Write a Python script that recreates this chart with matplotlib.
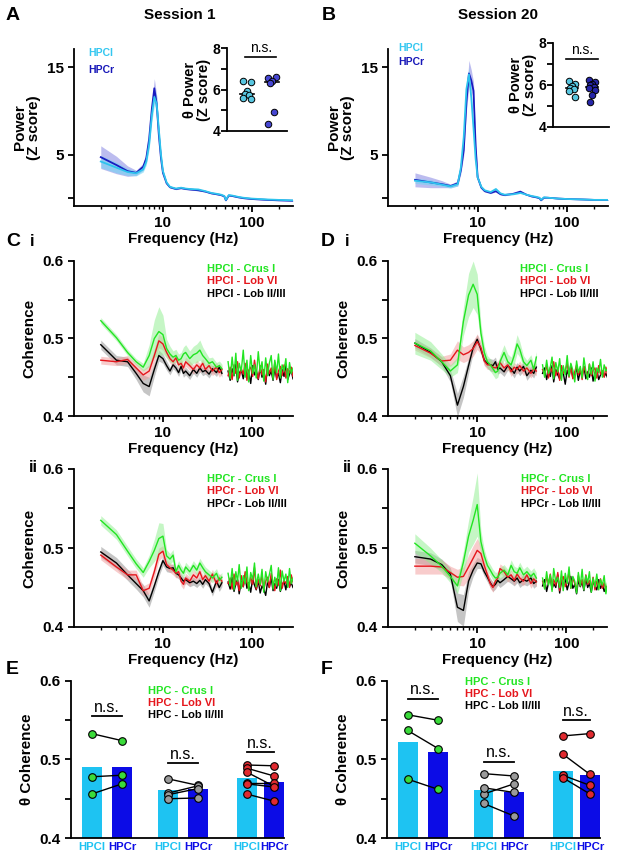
import matplotlib.pyplot as plt
import numpy as np
from matplotlib.ticker import LogLocator, NullFormatter, FixedLocator

plt.rcParams.update(
    {
        "font.family": ["Liberation Sans", "DejaVu Sans"],
        "font.weight": "bold",
        "axes.labelweight": "bold",
        "font.size": 11,
        "axes.linewidth": 1.3,
        "xtick.major.width": 1.3,
        "ytick.major.width": 1.3,
        "xtick.minor.width": 1.0,
        "ytick.minor.width": 1.3,
        "xtick.major.size": 4,
        "ytick.major.size": 4,
        "xtick.minor.size": 2.5,
        "ytick.minor.size": 4,
        "xtick.color": "black",
        "ytick.color": "black",
    }
)

# ---------------- data ----------------
# power spectra (z score)
pw_f = [2, 3, 4, 5, 6, 6.5, 7, 7.5, 8, 8.5, 9, 9.5, 10, 11, 12, 14, 16, 18, 20, 25,
        30, 35, 40, 45, 49, 51, 55, 60, 70, 80, 100, 150, 200, 290]
a_hpcr = [4.7, 3.8, 3.1, 2.9, 3.6, 4.6, 6.8, 10.2, 12.6, 10.8, 7.2, 4.6, 2.9, 1.7, 1.25, 1.05, 1.15,
          1.05, 1.0, 0.9, 0.75, 0.55, 0.45, 0.35, 0.2, -0.25, 0.3, 0.25, 0.1, 0.0, -0.1, -0.2, -0.25, -0.3]
a_hpcr_sem = [1.3, 1.0, 0.6, 0.3, 0.4, 0.5, 0.7, 0.9, 1.1, 1.0, 0.7, 0.4, 0.2, 0.1, 0.1, 0.08, 0.08,
              0.08, 0.08, 0.06, 0.06, 0.06, 0.06, 0.06, 0.06, 0.06, 0.05, 0.05, 0.05, 0.05, 0.04, 0.04, 0.04, 0.04]
a_hpcl = [4.2, 3.5, 3.0, 2.85, 3.3, 4.2, 6.2, 9.5, 11.6, 10.8, 7.8, 5.0, 3.1, 1.8, 1.3, 1.1, 1.2,
          1.1, 1.05, 1.0, 0.8, 0.6, 0.5, 0.4, 0.25, -0.2, 0.35, 0.3, 0.15, 0.05, -0.05, -0.15, -0.2, -0.25]
a_hpcl_sem = [0.7, 0.6, 0.4, 0.3, 0.3, 0.4, 0.6, 0.8, 1.0, 0.9, 0.7, 0.4, 0.2, 0.1, 0.1, 0.08, 0.08,
              0.08, 0.08, 0.06, 0.06, 0.06, 0.06, 0.06, 0.06, 0.06, 0.05, 0.05, 0.05, 0.05, 0.04, 0.04, 0.04, 0.04]
b_hpcr = [2.1, 1.8, 1.6, 1.4, 1.7, 3.2, 5.5, 11.0, 14.3, 13.5, 12.3, 6.0, 2.4, 1.2, 0.8, 0.6, 0.8,
          0.45, 0.35, 0.5, 0.75, 0.4, 0.2, 0.1, 0.0, -0.25, 0.05, 0.05, 0.0, -0.05, -0.1, -0.15, -0.2, -0.2]
b_hpcr_sem = [0.8, 0.6, 0.4, 0.2, 0.3, 0.4, 0.6, 1.0, 1.5, 1.2, 1.0, 0.6, 0.3, 0.1, 0.1, 0.08, 0.08,
              0.08, 0.08, 0.06, 0.06, 0.06, 0.06, 0.06, 0.06, 0.06, 0.05, 0.05, 0.05, 0.05, 0.04, 0.04, 0.04, 0.04]
b_hpcl = [2.0, 1.8, 1.55, 1.35, 1.6, 3.5, 7.0, 12.5, 14.2, 11.5, 8.0, 4.5, 2.4, 1.3, 0.9, 0.7, 1.05,
          0.55, 0.4, 0.45, 0.6, 0.4, 0.25, 0.15, 0.05, -0.2, 0.1, 0.05, 0.0, -0.05, -0.1, -0.15, -0.2, -0.2]
b_hpcl_sem = [0.3, 0.3, 0.2, 0.2, 0.2, 0.3, 0.5, 0.7, 0.8, 0.7, 0.5, 0.3, 0.2, 0.1, 0.1, 0.08, 0.08,
              0.08, 0.08, 0.06, 0.06, 0.06, 0.06, 0.06, 0.06, 0.06, 0.05, 0.05, 0.05, 0.05, 0.04, 0.04, 0.04, 0.04]

# theta power per animal (insets)
a_theta_l = [6.4, 6.35, 5.95, 5.8, 5.75, 5.6, 5.55]
a_theta_r = [6.55, 6.6, 6.4, 6.3, 4.9, 4.35]
b_theta_l = [6.2, 6.05, 5.95, 5.85, 5.8, 5.7, 5.45]
b_theta_r = [6.25, 6.15, 6.05, 6.0, 5.9, 5.85, 5.75, 5.5, 5.2]

# coherence spectra, values in thousandths
coh_f_lo = [2, 3, 4, 5, 6, 7, 8, 9, 10, 11, 12, 13, 14, 15, 16, 17, 18, 20, 22, 24, 26, 28, 30, 33, 36, 40, 43, 46]
coh_f_hi = [54, 57, 60, 63, 66, 69, 72, 76, 80, 84, 88, 92, 97, 102, 107, 112, 118, 124,
            130, 136, 143, 150, 157, 165, 173, 181, 190, 199, 209, 219, 230, 241, 253, 265, 277, 290]

ci_crus = [523, 501, 482, 470, 463, 478, 500, 509, 505, 487, 480, 476, 478, 472, 474, 480, 482, 474,
           479, 481, 485, 478, 474, 468, 470, 463, 465, 461]
ci_crus_sem = [4, 4, 4, 4, 5, 14, 24, 32, 25, 12, 10, 8, 8, 8, 8, 9, 10, 10, 11, 12, 13, 11, 9, 7, 6, 6, 6, 6]
ci_crus_hi = [470, 448, 476, 452, 481, 446, 468, 458, 485, 450, 472, 444, 478, 455, 466, 449, 483, 457,
              470, 445, 475, 452, 468, 478, 447, 472, 456, 480, 449, 466, 458, 474, 443, 469, 455, 462]
ci_lob6 = [472, 470, 473, 462, 453, 458, 478, 497, 493, 482, 474, 470, 475, 466, 468, 462, 470, 465,
           460, 466, 462, 468, 460, 465, 458, 463, 456, 460]
ci_lob6_sem = [5, 5, 5, 6, 7, 8, 9, 9, 8, 7, 6, 6, 6, 6, 6, 6, 6, 6, 6, 6, 6, 6, 6, 6, 6, 6, 6, 6]
ci_lob6_hi = [452, 463, 447, 466, 455, 470, 449, 461, 454, 468, 446, 459, 463, 451, 472, 457, 448, 465,
              453, 460, 444, 467, 455, 462, 450, 469, 447, 458, 464, 452, 466, 449, 461, 456, 463, 451]
ci_lob23 = [492, 472, 470, 455, 442, 438, 460, 478, 474, 465, 458, 466, 462, 456, 464, 455, 458, 452,
            460, 455, 462, 457, 459, 454, 461, 456, 463, 455]
ci_lob23_sem = [6, 6, 6, 8, 11, 12, 9, 7, 6, 6, 5, 5, 5, 5, 5, 5, 5, 5, 5, 5, 5, 5, 5, 5, 5, 5, 5, 5]
ci_lob23_hi = [458, 446, 461, 452, 467, 444, 455, 460, 448, 463, 451, 457, 442, 465, 453, 459, 447, 462,
               450, 456, 441, 464, 452, 458, 446, 461, 449, 455, 443, 460, 451, 466, 447, 454, 459, 448]

cii_crus = [535, 517, 496, 480, 469, 483, 497, 512, 515, 490, 486, 491, 470, 478, 472, 468, 476, 470,
            478, 472, 481, 475, 470, 466, 462, 468, 459, 463]
cii_crus_sem = [6, 6, 6, 6, 6, 8, 14, 20, 16, 8, 7, 7, 6, 6, 6, 6, 6, 6, 6, 6, 6, 6, 6, 6, 6, 6, 6, 6]
cii_crus_hi = [468, 452, 474, 447, 470, 458, 479, 449, 465, 455, 476, 446, 469, 460, 481, 451, 467, 454,
               473, 444, 470, 457, 466, 478, 448, 463, 452, 475, 446, 471, 458, 467, 450, 474, 455, 462]
cii_lob6 = [491, 476, 466, 466, 446, 449, 470, 492, 496, 479, 475, 472, 468, 470, 458, 454, 462, 458,
            466, 462, 470, 460, 465, 458, 467, 455, 462, 458]
cii_lob6_sem = [6, 6, 6, 6, 6, 7, 8, 8, 7, 6, 6, 6, 6, 6, 6, 6, 6, 6, 6, 6, 6, 6, 6, 6, 6, 6, 6, 6]
cii_lob6_hi = [455, 462, 448, 467, 453, 459, 446, 465, 451, 470, 457, 449, 463, 454, 475, 448, 460, 452,
               466, 447, 458, 463, 450, 468, 456, 446, 461, 453, 472, 449, 459, 455, 464, 450, 466, 457]
cii_lob23 = [495, 481, 466, 455, 446, 433, 452, 470, 484, 476, 474, 475, 468, 466, 462, 458, 460, 456,
             458, 455, 459, 454, 460, 455, 444, 458, 450, 456]
cii_lob23_sem = [7, 7, 7, 7, 8, 8, 7, 6, 6, 6, 5, 5, 5, 5, 5, 5, 5, 5, 5, 5, 5, 5, 5, 5, 5, 5, 5, 5]
cii_lob23_hi = [457, 448, 463, 445, 455, 460, 442, 458, 451, 464, 449, 456, 444, 461, 453, 447, 459, 443,
                452, 448, 440, 457, 450, 462, 446, 455, 449, 460, 445, 453, 458, 447, 463, 451, 456, 450]

di_crus = [494, 484, 470, 458, 466, 522, 556, 570, 557, 507, 482, 470, 466, 461, 456, 458, 470, 482,
           470, 466, 478, 493, 486, 470, 465, 472, 460, 476]
di_crus_sem = [14, 12, 10, 8, 10, 18, 28, 30, 26, 12, 9, 8, 8, 8, 8, 8, 9, 10, 10, 10, 11, 12, 10, 8, 7, 7, 7, 7]
di_crus_hi = [466, 450, 472, 455, 463, 476, 448, 469, 457, 474, 446, 465, 453, 478, 451, 468, 459, 444,
              471, 456, 464, 449, 475, 458, 447, 467, 454, 470, 445, 462, 456, 473, 450, 466, 458, 461]
di_lob6 = [491, 481, 471, 472, 485, 479, 482, 487, 496, 488, 471, 466, 466, 463, 462, 465, 469, 462,
           466, 457, 463, 460, 465, 458, 462, 455, 461, 458]
di_lob6_sem = [6, 6, 6, 8, 12, 10, 10, 10, 10, 8, 6, 6, 6, 6, 6, 6, 6, 6, 6, 6, 6, 6, 6, 6, 6, 6, 6, 6]
di_lob6_hi = [460, 454, 466, 449, 463, 457, 470, 452, 461, 446, 465, 455, 459, 468, 450, 463, 448, 457,
              466, 453, 460, 447, 464, 456, 451, 467, 452, 459, 462, 449, 465, 454, 458, 450, 463, 452]
di_lob23 = [494, 482, 470, 452, 414, 438, 465, 488, 499, 486, 472, 468, 466, 465, 470, 460, 462, 457,
            465, 461, 455, 463, 458, 464, 452, 459, 455, 463]
di_lob23_sem = [6, 6, 6, 8, 15, 14, 10, 7, 6, 6, 6, 6, 8, 8, 6, 6, 6, 6, 6, 6, 6, 6, 6, 6, 6, 6, 6, 6]
di_lob23_hi = [455, 462, 447, 458, 451, 465, 444, 460, 453, 448, 463, 456, 441, 459, 452, 466, 449, 455,
               461, 446, 458, 452, 464, 448, 457, 450, 462, 445, 456, 460, 447, 453, 458, 451, 455, 449]

dii_crus = [506, 490, 477, 464, 452, 482, 515, 535, 555, 508, 490, 478, 472, 466, 462, 463, 468, 472,
            466, 478, 470, 468, 475, 466, 470, 464, 468, 462]
dii_crus_sem = [12, 10, 8, 8, 10, 14, 20, 30, 40, 14, 8, 7, 7, 7, 7, 7, 7, 7, 7, 7, 7, 7, 7, 7, 7, 7, 7, 7]
dii_crus_hi = [462, 448, 470, 453, 466, 445, 474, 457, 463, 450, 471, 446, 468, 455, 476, 449, 464, 458,
               443, 469, 452, 473, 447, 465, 456, 470, 444, 462, 451, 467, 447, 460, 453, 465, 442, 457]
dii_lob6 = [477, 477, 476, 469, 463, 464, 476, 487, 497, 493, 478, 466, 455, 450, 458, 462, 474, 470,
            463, 466, 459, 467, 462, 458, 466, 455, 461, 457]
dii_lob6_sem = [10, 10, 9, 8, 10, 12, 15, 16, 15, 10, 7, 6, 6, 6, 6, 6, 6, 6, 6, 6, 6, 6, 6, 6, 6, 6, 6, 6]
dii_lob6_hi = [458, 450, 463, 455, 467, 448, 460, 453, 469, 446, 459, 464, 451, 457, 470, 449, 462, 455,
               447, 465, 452, 460, 448, 466, 454, 459, 450, 463, 447, 458, 452, 461, 449, 456, 446, 453]
dii_lob23 = [489, 486, 479, 467, 425, 421, 458, 472, 481, 480, 470, 463, 456, 451, 454, 459, 456, 460,
             464, 461, 458, 462, 456, 460, 458, 462, 455, 458]
dii_lob23_sem = [8, 8, 7, 8, 18, 20, 12, 8, 7, 6, 6, 6, 6, 6, 6, 6, 6, 6, 6, 6, 6, 6, 6, 6, 6, 6, 6, 6]
dii_lob23_hi = [452, 460, 445, 456, 463, 448, 455, 450, 466, 443, 458, 452, 461, 447, 456, 464, 449, 454,
                442, 459, 451, 457, 446, 462, 450, 455, 444, 458, 452, 447, 460, 449, 454, 445, 451, 448]

# theta coherence per animal (HPCl / HPCr pairs)
bar_labels = ["HPCl", "HPCr", "HPCl", "HPCr", "HPCl", "HPCr"]
e_bars = [0.490, 0.491, 0.461, 0.462, 0.477, 0.471]
e_crus_l = [0.533, 0.478, 0.456]
e_crus_r = [0.524, 0.480, 0.469]
e_lob23_l = [0.4755, 0.457, 0.455, 0.450]
e_lob23_r = [0.467, 0.4665, 0.463, 0.451]
e_lob6_l = [0.493, 0.489, 0.484, 0.470, 0.469, 0.456]
e_lob6_r = [0.492, 0.479, 0.466, 0.470, 0.465, 0.447]
f_bars = [0.522, 0.509, 0.461, 0.458, 0.485, 0.480]
f_crus_l = [0.557, 0.537, 0.475]
f_crus_r = [0.550, 0.514, 0.462]
f_lob23_l = [0.482, 0.456, 0.444, 0.464]
f_lob23_r = [0.479, 0.469, 0.428, 0.458]
f_lob6_l = [0.530, 0.507, 0.480, 0.477]
f_lob6_r = [0.533, 0.481, 0.467, 0.456]

# ---------------- style ----------------
C_L = "#2EC4EE"
C_R = "#1A1AC0"
GREEN = "#22E522"
RED = "#E5161C"
BAR_L = "#1EC3F2"
BAR_R = "#0C0CE6"

W, H = 617, 860
fig = plt.figure(figsize=(W / 100, H / 100), dpi=100)


def add_ax(l, t, r, b):
    return fig.add_axes([l / W, 1 - b / H, (r - l) / W, (b - t) / H])


def ftext(x, y, s, **kw):
    kw.setdefault("va", "center")
    fig.text(x / W, 1 - y / H, s, **kw)


def prism(ax):
    ax.spines[["top", "right"]].set_visible(False)
    ax.tick_params(which="both", direction="out", labelsize=11)


def log_x(ax, right):
    ax.set_xscale("log")
    ax.set_xlim(1, right)
    ax.xaxis.set_major_locator(FixedLocator([10, 100]))
    ax.set_xticklabels(["10", "100"])
    ax.xaxis.set_minor_locator(LogLocator(base=10, subs=np.arange(2, 10)))
    ax.xaxis.set_minor_formatter(NullFormatter())
    ax.set_xlabel("Frequency (Hz)", fontsize=11, labelpad=1)


# ---------------- power panels ----------------
def power_panel(box, right, r_mean, r_sem, l_mean, l_sem):
    ax = add_ax(*box)
    prism(ax)
    f = np.array(pw_f)
    for m, s, c, fc, a in [(r_mean, r_sem, C_R, "#7A7AE0", 0.5), (l_mean, l_sem, C_L, "#6FD6F4", 0.55)]:
        m = np.array(m)
        s = np.array(s)
        ax.fill_between(f, m - s, m + s, color=fc, alpha=a, lw=0)
        ax.plot(f, m, color=c, lw=1.3)
    log_x(ax, right)
    ax.set_ylim(-0.9, 17.1)
    ax.set_yticks([0, 5, 15])
    ax.set_yticklabels(["", "5", "15"])
    ax.set_ylabel("Power\n(Z score)", fontsize=11, labelpad=4, linespacing=1.0)
    return ax


power_panel((74, 49, 293, 206), 290, a_hpcr, a_hpcr_sem, a_hpcl, a_hpcl_sem)
power_panel((388, 49, 608, 206), 285, b_hpcr, b_hpcr_sem, b_hpcl, b_hpcl_sem)
ftext(88, 53, "HPCl", color="#33C7F0", fontsize=7.5)
ftext(88, 70, "HPCr", color="#1717B8", fontsize=7.5)
ftext(398, 48, "HPCl", color="#33C7F0", fontsize=7.5)
ftext(398, 62, "HPCr", color="#1717B8", fontsize=7.5)


def inset(box, xlim, vals_l, vals_r, col_r, ns_span, ns_y):
    ax = add_ax(*box)
    prism(ax)
    ax.set_xlim(*xlim)
    ax.set_ylim(4, 8)
    ax.set_yticks([4, 6, 8])
    ax.set_yticks([5, 7], minor=True)
    ax.tick_params(axis="y", labelsize=10, pad=1)
    ax.set_xticks([])
    for i, (vals, col) in enumerate([(vals_l, "#58C6E0"), (vals_r, col_r)]):
        off = np.resize([-0.16, 0.16, 0.0, -0.08, 0.08], len(vals))
        ax.plot([i - 0.28, i + 0.28], [np.median(vals)] * 2, color="black", lw=1.2, zorder=2)
        ax.scatter(i + off, vals, s=22, color=col, edgecolor="black", lw=0.7, zorder=3)
    ax.plot(ns_span, [ns_y, ns_y], color="black", lw=1.2, clip_on=False)
    ax.text(np.mean(ns_span), ns_y + 0.08, "n.s.", ha="center", va="bottom",
            fontsize=10, fontweight="normal", clip_on=False)
    ax.set_ylabel("θ Power\n(Z score)", fontsize=10.5, labelpad=1, linespacing=1.0)


inset((227, 48, 287, 131), (-0.8, 1.6), a_theta_l, a_theta_r, "#4646D2", [-0.08, 1.17], 7.57)
inset((553, 43, 609, 127), (-0.95, 1.85), b_theta_l, b_theta_r, "#2626A8", [-0.3, 1.3], 7.25)


# ---------------- coherence panels ----------------
def coh_panel(box, right, series, hpc):
    ax = add_ax(*box)
    prism(ax)
    flo = np.array(coh_f_lo)
    fhi = np.array(coh_f_hi)
    for lo, sem, hi, c, fc in series:
        lo = np.array(lo) / 1000
        sem = np.array(sem) / 1000
        ax.fill_between(flo, lo - sem, lo + sem, color=fc, alpha=0.5, lw=0)
        ax.plot(flo, lo, color=c, lw=1.0)
        ax.plot(fhi, np.array(hi) / 1000, color=c, lw=1.0)
    log_x(ax, right)
    ax.set_ylim(0.4, 0.6)
    ax.set_yticks([0.4, 0.5, 0.6])
    ax.set_yticklabels(["0.4", "0.5", "0.6"])
    ax.set_yticks([0.45, 0.55], minor=True)
    ax.set_ylabel("Coherence", fontsize=11, labelpad=4)
    return ax


def coh_legend(x, y, hpc):
    for k, (txt, col) in enumerate([("Crus I", GREEN), ("Lob VI", RED), ("Lob II/III", "black")]):
        ftext(x, y + 12.5 * k, f"{hpc} - {txt}", color=col, fontsize=8)


coh_panel((74, 261, 293, 416), 290,
          [(ci_lob23, ci_lob23_sem, ci_lob23_hi, "black", "#8C8C8C"),
           (ci_lob6, ci_lob6_sem, ci_lob6_hi, RED, "#F29A9A"),
           (ci_crus, ci_crus_sem, ci_crus_hi, GREEN, "#8CEE8C")], "HPCl")
coh_panel((388, 261, 607, 416), 285,
          [(di_lob23, di_lob23_sem, di_lob23_hi, "black", "#8C8C8C"),
           (di_lob6, di_lob6_sem, di_lob6_hi, RED, "#F29A9A"),
           (di_crus, di_crus_sem, di_crus_hi, GREEN, "#8CEE8C")], "HPCl")
coh_panel((74, 469, 293, 627), 290,
          [(cii_lob23, cii_lob23_sem, cii_lob23_hi, "black", "#8C8C8C"),
           (cii_lob6, cii_lob6_sem, cii_lob6_hi, RED, "#F29A9A"),
           (cii_crus, cii_crus_sem, cii_crus_hi, GREEN, "#8CEE8C")], "HPCr")
coh_panel((388, 469, 607, 627), 285,
          [(dii_lob23, dii_lob23_sem, dii_lob23_hi, "black", "#8C8C8C"),
           (dii_lob6, dii_lob6_sem, dii_lob6_hi, RED, "#F29A9A"),
           (dii_crus, dii_crus_sem, dii_crus_hi, GREEN, "#8CEE8C")], "HPCr")
coh_legend(207, 269, "HPCl")
coh_legend(520, 269, "HPCl")
coh_legend(207, 479, "HPCr")
coh_legend(521, 479, "HPCr")


# ---------------- theta coherence bars ----------------
def bar_panel(box, bars, groups, ns_y):
    ax = add_ax(*box)
    prism(ax)
    pos = np.array([0, 1, 2.5, 3.5, 5.1, 6.0])
    ax.bar(pos, bars, width=0.65, color=[BAR_L, BAR_R] * 3, zorder=1)
    for g, (vl, vr, col) in enumerate(groups):
        xl, xr = pos[2 * g], pos[2 * g + 1]
        for a, b in zip(vl, vr):
            ax.plot([xl, xr], [a, b], color="black", lw=1.0, zorder=2)
        ax.scatter([xl] * len(vl) + [xr] * len(vr), list(vl) + list(vr), s=30,
                   color=col, edgecolor="black", lw=0.8, zorder=3)
        ax.plot([xl, xr], [ns_y[g]] * 2, color="black", lw=1.3, zorder=2)
        ax.text((xl + xr) / 2, ns_y[g] + 0.002, "n.s.", ha="center", va="bottom",
                fontsize=11.5, fontweight="normal")
    ax.set_xlim(-0.68, 6.33)
    ax.set_ylim(0.4, 0.6)
    ax.set_yticks([0.4, 0.5, 0.6])
    ax.set_yticklabels(["0.4", "0.5", "0.6"])
    ax.set_yticks([0.45, 0.55], minor=True)
    ax.set_xticks(pos)
    ax.set_xticklabels(bar_labels, fontsize=8.2)
    ax.tick_params(axis="x", length=0, pad=3)
    for lab, c in zip(ax.get_xticklabels(), [BAR_L, BAR_R] * 3):
        lab.set_color(c)
    ax.set_ylabel("θ Coherence", fontsize=11, labelpad=4)
    return ax


bar_panel((71, 681, 284, 838), e_bars,
          [(e_crus_l, e_crus_r, "#3ADB3A"), (e_lob23_l, e_lob23_r, "#9A9A9A"), (e_lob6_l, e_lob6_r, "#E02A30")],
          [0.555, 0.495, 0.509])
bar_panel((387, 681, 600, 838), f_bars,
          [(f_crus_l, f_crus_r, "#3ADB3A"), (f_lob23_l, f_lob23_r, "#9A9A9A"), (f_lob6_l, f_lob6_r, "#E02A30")],
          [0.577, 0.497, 0.550])
for x, y in [(148, 691), (465, 682)]:
    for k, (txt, col) in enumerate([("Crus I", GREEN), ("Lob VI", RED), ("Lob II/III", "black")]):
        ftext(x, y + 11.8 * k, f"HPC - {txt}", color=col, fontsize=8)

# ---------------- panel letters & titles ----------------
for x, y, s in [(13, 15, "A"), (329, 15, "B"), (13, 242, "C"), (328, 242, "D"), (12, 669, "E"), (327, 669, "F")]:
    ftext(x, y, s, fontsize=14, ha="center")
for x, y, s in [(32, 242, "i"), (347, 242, "i"), (33, 467, "ii"), (347, 467, "ii")]:
    ftext(x, y, s, fontsize=12, ha="center")
ftext(180, 15, "Session 1", fontsize=11, ha="center")
ftext(498, 15, "Session 20", fontsize=11, ha="center")

fig.savefig("out.png", dpi=100)
